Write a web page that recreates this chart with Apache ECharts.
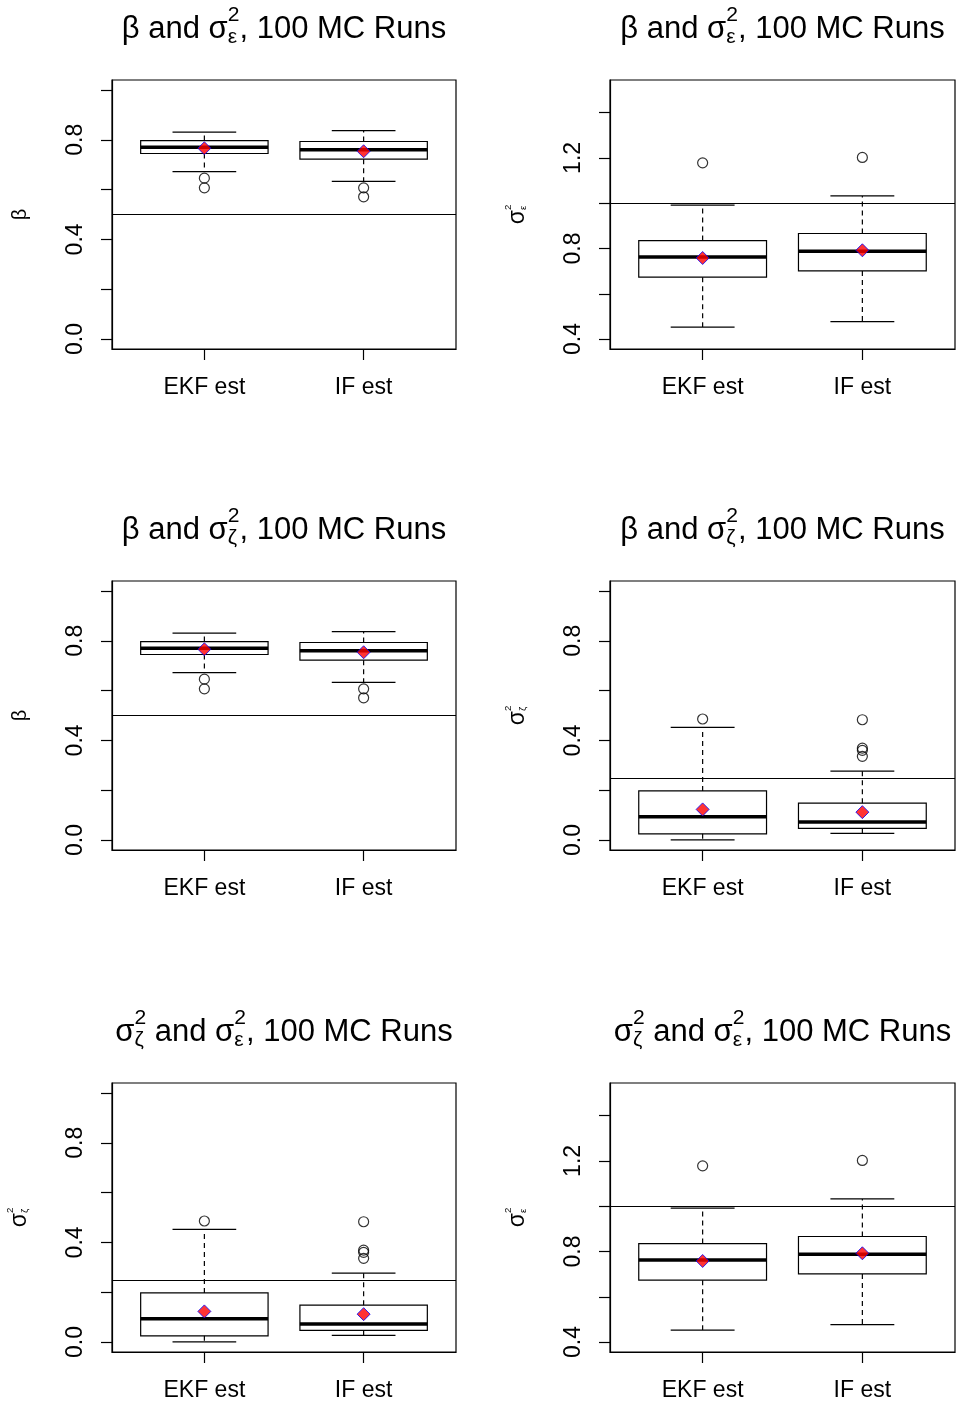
<!DOCTYPE html>
<html>
<head>
<meta charset="utf-8">
<script src="https://cdn.jsdelivr.net/npm/echarts@6/dist/echarts.min.js"></script>
<style>
html,body{margin:0;padding:0;background:#fff;}
#chart{width:957px;height:1405px;}
</style>
</head>
<body>
<div id="chart"></div>
<script>
// ---------------- DATA ----------------
const categories = ['EKF est', 'IF est'];

// beta estimates: [lower whisker, Q1, median, Q3, upper whisker]
const betaStats = [[0.672, 0.745, 0.770, 0.797, 0.831], [0.633, 0.722, 0.760, 0.793, 0.837]];
const betaOutliers = [[0.646, 0.607], [0.607, 0.571]];
const betaMeans = [0.766, 0.754];
const betaTrue = 0.5;

// sigma_zeta^2 estimates
const zetaStats = [[0.001, 0.025, 0.093, 0.197, 0.452], [0.027, 0.047, 0.072, 0.148, 0.277]];
const zetaOutliers = [[0.486], [0.483, 0.369, 0.360, 0.336]];
const zetaMeans = [0.123, 0.112];
const zetaTrue = 0.25;

// sigma_eps^2 estimates
const epsStats = [[0.453, 0.673, 0.762, 0.835, 0.991], [0.477, 0.701, 0.788, 0.866, 1.032]];
const epsOutliers = [[1.178], [1.202]];
const epsMeans = [0.758, 0.792];
const epsTrue = 1.0;

// axis ranges / ticks / tick labels
const unitRange = [-0.04, 1.04];
const unitTicks = [0, 0.2, 0.4, 0.6, 0.8, 1.0];
const unitLabels = [0, 0.4, 0.8];
const epsRange = [0.356, 1.544];
const epsTicks = [0.4, 0.6, 0.8, 1.0, 1.2, 1.4];
const epsLabels = [0.4, 0.8, 1.2];
const xRange = [0.42, 2.58];
const xTicks = [1, 2];

// titles and axis names (math text pieces)
const titleBetaEps = [{t: 'β and σ'}, {sup: '2', sub: 'ε'}, {t: ', 100 MC Runs'}];
const titleBetaZeta = [{t: 'β and σ'}, {sup: '2', sub: 'ζ'}, {t: ', 100 MC Runs'}];
const titleZetaEps = [{t: 'σ'}, {sup: '2', sub: 'ζ'}, {t: ' and σ'}, {sup: '2', sub: 'ε'}, {t: ', 100 MC Runs'}];
const ylabBeta = [{t: 'β'}];
const ylabEps = [{t: 'σ'}, {sup: '2', sub: 'ε'}];
const ylabZeta = [{t: 'σ'}, {sup: '2', sub: 'ζ'}];

// ---------------- LAYOUT ----------------
const FONT = '"Liberation Sans", Arial, Helvetica, sans-serif';
const colLeft = [112, 610];
const colWidth = [344, 345];
const rowTop = [80, 581, 1083];
const gridH = 269;

const panels = [
  {r: 0, c: 0, stats: betaStats, out: betaOutliers, means: betaMeans, ref: betaTrue, range: unitRange, ticks: unitTicks, labels: unitLabels, title: titleBetaEps, ylab: ylabBeta},
  {r: 0, c: 1, stats: epsStats, out: epsOutliers, means: epsMeans, ref: epsTrue, range: epsRange, ticks: epsTicks, labels: epsLabels, title: titleBetaEps, ylab: ylabEps},
  {r: 1, c: 0, stats: betaStats, out: betaOutliers, means: betaMeans, ref: betaTrue, range: unitRange, ticks: unitTicks, labels: unitLabels, title: titleBetaZeta, ylab: ylabBeta},
  {r: 1, c: 1, stats: zetaStats, out: zetaOutliers, means: zetaMeans, ref: zetaTrue, range: unitRange, ticks: unitTicks, labels: unitLabels, title: titleBetaZeta, ylab: ylabZeta},
  {r: 2, c: 0, stats: zetaStats, out: zetaOutliers, means: zetaMeans, ref: zetaTrue, range: unitRange, ticks: unitTicks, labels: unitLabels, title: titleZetaEps, ylab: ylabZeta},
  {r: 2, c: 1, stats: epsStats, out: epsOutliers, means: epsMeans, ref: epsTrue, range: epsRange, ticks: epsTicks, labels: epsLabels, title: titleZetaEps, ylab: ylabEps}
];

// text measurement
const mctx = document.createElement('canvas').getContext('2d');
function tw(t, s) { mctx.font = s + 'px ' + FONT; return mctx.measureText(t).width; }

function mathText(parts, size, cx, cy, rotation, scriptScale, supShift, subShift) {
  const ss = size * scriptScale;
  let items = [];
  let cursor = 0;
  parts.forEach(p => {
    if (p.t !== undefined) {
      items.push({text: p.t, x: cursor, y: 0, s: size});
      cursor += tw(p.t, size);
    } else {
      items.push({text: p.sup, x: cursor, y: -supShift * size, s: ss});
      items.push({text: p.sub, x: cursor, y: subShift * size, s: ss});
      cursor += Math.max(tw(p.sup, ss), tw(p.sub, ss));
    }
  });
  const off = -cursor / 2;
  return {
    type: 'group', x: cx, y: cy, rotation: rotation || 0, silent: true,
    children: items.map(it => ({
      type: 'text', x: it.x + off, y: it.y,
      style: {text: it.text, fill: '#000', font: it.s + 'px ' + FONT, textAlign: 'left', textVerticalAlign: 'middle', verticalAlign: 'middle'}
    }))
  };
}

function renderBox(params, api) {
  const x = api.value(0);
  const lo = api.value(1), q1 = api.value(2), med = api.value(3), q3 = api.value(4), hi = api.value(5);
  const pLo = api.coord([x, lo]), pQ1 = api.coord([x, q1]), pMed = api.coord([x, med]);
  const pQ3 = api.coord([x, q3]), pHi = api.coord([x, hi]);
  const halfW = api.size([0.4, 0])[0];
  const capW = halfW / 2;
  const cx = pMed[0];
  const thin = {stroke: '#000', lineWidth: 1.2, fill: null};
  const dashed = {stroke: '#000', lineWidth: 1.2, lineDash: [5, 4], fill: null};
  return {
    type: 'group',
    children: [
      {type: 'line', shape: {x1: cx, y1: pQ3[1], x2: cx, y2: pHi[1]}, style: dashed},
      {type: 'line', shape: {x1: cx, y1: pQ1[1], x2: cx, y2: pLo[1]}, style: dashed},
      {type: 'line', shape: {x1: cx - capW, y1: pHi[1], x2: cx + capW, y2: pHi[1]}, style: thin},
      {type: 'line', shape: {x1: cx - capW, y1: pLo[1], x2: cx + capW, y2: pLo[1]}, style: thin},
      {type: 'rect', shape: {x: cx - halfW, y: pQ3[1], width: 2 * halfW, height: pQ1[1] - pQ3[1]}, style: {stroke: '#000', lineWidth: 1.2, fill: 'rgba(0,0,0,0)'}},
      {type: 'line', shape: {x1: cx - halfW, y1: pMed[1], x2: cx + halfW, y2: pMed[1]}, style: {stroke: '#000', lineWidth: 3.5}}
    ]
  };
}

const grids = [], xAxes = [], yAxes = [], series = [], graphics = [];
panels.forEach((p, i) => {
  const left = colLeft[p.c], top = rowTop[p.r], w = colWidth[p.c];
  grids.push({left: left, top: top, width: w, height: gridH, show: true, borderColor: '#000', borderWidth: 1.2, backgroundColor: 'transparent'});
  xAxes.push({
    type: 'value', gridIndex: i, min: xRange[0], max: xRange[1],
    axisLine: {show: true, onZero: false, lineStyle: {color: '#000', width: 1.2}},
    axisTick: {show: true, length: 11, customValues: xTicks, lineStyle: {color: '#000', width: 1.2}},
    axisLabel: {show: true, customValues: xTicks, formatter: v => categories[Math.round(v) - 1], fontSize: 23, fontFamily: FONT, color: '#000', margin: 27},
    splitLine: {show: false}
  });
  yAxes.push({
    type: 'value', gridIndex: i, min: p.range[0], max: p.range[1],
    axisLine: {show: true, onZero: false, lineStyle: {color: '#000', width: 1.2}},
    axisTick: {show: true, length: 11, customValues: p.ticks, lineStyle: {color: '#000', width: 1.2}},
    axisLabel: {show: true, customValues: p.labels, formatter: v => v.toFixed(1), rotate: 90, fontSize: 23, fontFamily: FONT, color: '#000', margin: 25},
    splitLine: {show: false}
  });
  series.push({
    type: 'custom', xAxisIndex: i, yAxisIndex: i, renderItem: renderBox, silent: true, z: 3,
    encode: {x: 0, y: [1, 2, 3, 4, 5]},
    data: p.stats.map((s, k) => [k + 1].concat(s))
  });
  const outData = [];
  p.out.forEach((arr, k) => arr.forEach(v => outData.push([k + 1, v])));
  series.push({
    type: 'scatter', xAxisIndex: i, yAxisIndex: i, silent: true, z: 4,
    symbol: 'circle', symbolSize: 10,
    itemStyle: {color: 'rgba(0,0,0,0)', borderColor: '#000', borderWidth: 1.2},
    data: outData
  });
  series.push({
    type: 'scatter', xAxisIndex: i, yAxisIndex: i, silent: true, z: 6,
    symbol: 'diamond', symbolSize: [13, 13],
    itemStyle: {color: '#FF0000', borderColor: '#0000FF', borderWidth: 1},
    data: p.means.map((m, k) => [k + 1, m]),
    markLine: {
      silent: true, symbol: ['none', 'none'], label: {show: false},
      lineStyle: {color: '#000', width: 1.2, type: 'solid'},
      data: [{yAxis: p.ref}]
    }
  });
  // title
  graphics.push(mathText(p.title, 31, left + w / 2, top - 51, 0, 0.68, 0.44, 0.27));
  // y axis name
  const isBeta = p.ylab.length === 1;
  graphics.push(mathText(p.ylab, isBeta ? 20 : 23, left - 92, top + gridH / 2, Math.PI / 2, 0.42, 0.4, 0.22));
});

const chart = echarts.init(document.getElementById('chart'), null, {renderer: 'canvas'});
chart.setOption({
  animation: false,
  backgroundColor: '#fff',
  grid: grids,
  xAxis: xAxes,
  yAxis: yAxes,
  series: series,
  graphic: graphics
});
</script>
</body>
</html>
